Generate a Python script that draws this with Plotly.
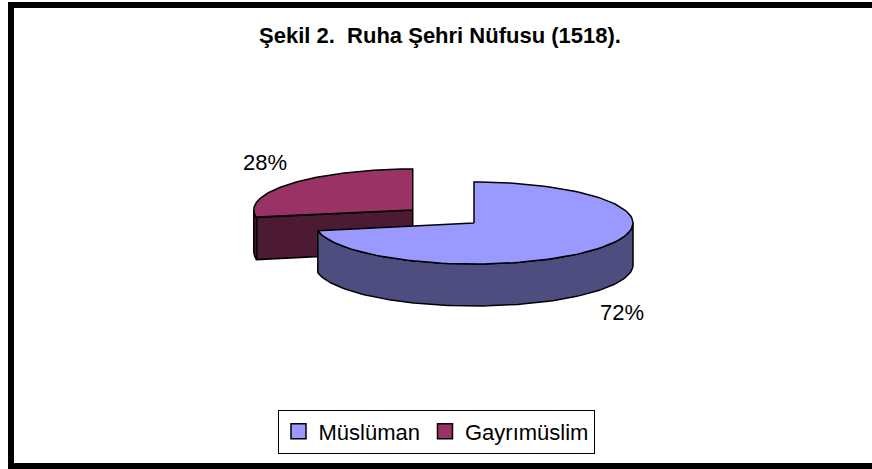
import numpy as np
import plotly.graph_objects as go

# ---- data ----
categories = ["Müslüman", "Gayrımüslim"]
values = [72, 28]
label_texts = ["72%", "28%"]
explode = [0.0, 0.5]
top_colors = ["#9999FF", "#993366"]
side_colors = ["#4D4D80", "#4D1A33"]
title_text = "Şekil 2.\u00a0 Ruha Şehri Nüfusu (1518)."

# ---- geometry (pixel space) ----
W, H = 872, 469
CX, CY = 474, 223      # pie centre
A, B = 159, 41         # ellipse semi-axes
D = 42                 # depth of 3D side
FONT = "Liberation Sans, Arial, sans-serif"


def pt(cx, cy, t, dy=0.0):
    r = np.radians(t)
    return cx + A * np.sin(r), cy - B * np.cos(r) + dy


def arc(cx, cy, t0, t1, dy=0.0, n=120):
    ts = np.linspace(t0, t1, n)
    r = np.radians(ts)
    return list(cx + A * np.sin(r)), list(cy - B * np.cos(r) + dy)


total = sum(values)
slices = []
start = 0.0
for i, v in enumerate(values):
    sweep = 360.0 * v / total
    t0, t1 = start, start + sweep
    mid = (t0 + t1) / 2
    k = explode[i]
    cx = CX + k * A * np.sin(np.radians(mid))
    cy = CY - k * B * np.cos(np.radians(mid))
    slices.append(dict(i=i, t0=t0, t1=t1, mid=mid, cx=cx, cy=cy))
    start = t1

fig = go.Figure()
line = dict(color="black", width=1.5)


def poly(xs, ys, color):
    fig.add_trace(go.Scatter(x=xs + [xs[0]], y=ys + [ys[0]], mode="lines", fill="toself",
                             fillcolor=color, line=line, hoverinfo="skip", showlegend=False))


# draw back slices first (the exploded one sits behind)
for s in sorted(slices, key=lambda s: s["cy"]):
    i, t0, t1, cx, cy = s["i"], s["t0"], s["t1"], s["cx"], s["cy"]
    # radial start face
    if np.sin(np.radians(t0)) < -1e-6:
        px, py = pt(cx, cy, t0)
        poly([cx, px, px, cx], [cy, py, py + D, cy + D], side_colors[i])
    # radial end face
    if np.sin(np.radians(t1)) > 1e-6:
        px, py = pt(cx, cy, t1)
        poly([cx, px, px, cx], [cy, py, py + D, cy + D], side_colors[i])
    # outer visible side
    s0, s1 = max(t0, 90), min(t1, 270)
    if s0 < s1:
        xt, yt = arc(cx, cy, s0, s1)
        xb, yb = arc(cx, cy, s1, s0, dy=D)
        poly(xt + xb, yt + yb, side_colors[i])
    # top face
    xa, ya = arc(cx, cy, t0, t1)
    poly([cx] + xa, [cy] + ya, top_colors[i])

# data labels
for s in slices:
    r = np.radians(s["mid"])
    lx = s["cx"] + 1.21 * A * np.sin(r)
    ly = s["cy"] - 1.8 * B * np.cos(r) + (D if np.cos(r) < 0 else 0)
    fig.add_annotation(x=lx, y=ly, text=label_texts[s["i"]], showarrow=False,
                       font=dict(family=FONT, size=22, color="black"))

# legend entries
for i, c in enumerate(categories):
    fig.add_trace(go.Scatter(x=[None], y=[None], mode="markers", name=c,
                             marker=dict(symbol="square", size=15, color=top_colors[i],
                                         line=dict(color="black", width=1.5))))

# outer frame (right edge lies outside the visible window)
fig.add_shape(type="rect", x0=11, x1=W + 40, y0=5, y1=466,
              line=dict(color="black", width=6), layer="above")

fig.update_layout(
    width=W, height=H,
    margin=dict(l=0, r=0, t=0, b=0),
    paper_bgcolor="white", plot_bgcolor="white",
    xaxis=dict(range=[0, W], visible=False, fixedrange=True),
    yaxis=dict(range=[H, 0], visible=False, fixedrange=True),
    title=dict(text=title_text, x=440 / W, xanchor="center", y=1 - 35 / H, yanchor="middle",
               font=dict(family=FONT, size=22, color="black", weight="bold")),
    legend=dict(orientation="h", x=0.5, xanchor="center", y=1 - 431.5 / H, yanchor="middle",
                bordercolor="black", borderwidth=1, bgcolor="white",
                font=dict(family=FONT, size=22, color="black"),
                itemwidth=30, tracegroupgap=0),
    showlegend=True,
    hovermode=False,
)

fig.write_html("out.html", config={"displayModeBar": False},
               post_script="document.body.style.margin='0';document.body.style.overflow='hidden';")
